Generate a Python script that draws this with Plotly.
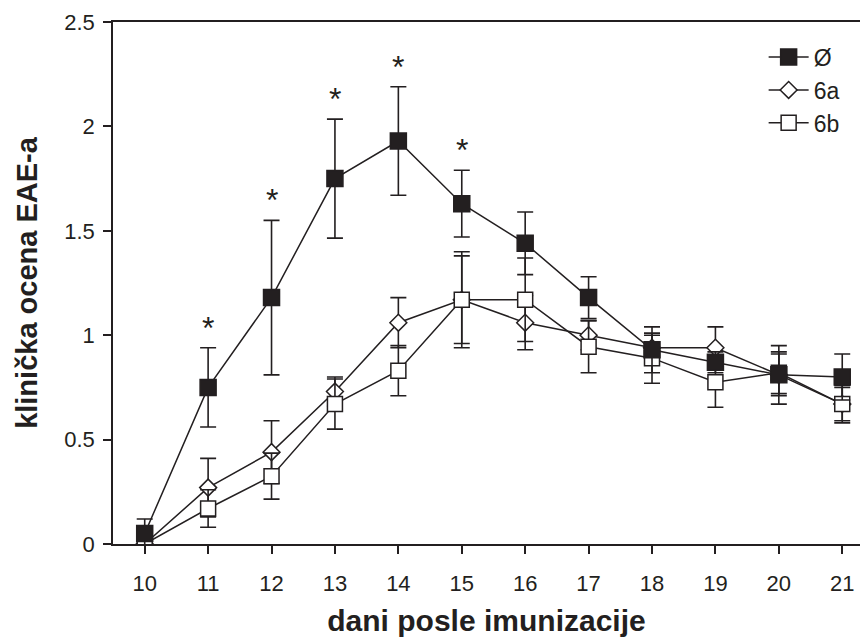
import plotly.graph_objects as go

days = [10, 11, 12, 13, 14, 15, 16, 17, 18, 19, 20, 21]

ctrl_mean = [0.05, 0.75, 1.18, 1.75, 1.93, 1.63, 1.44, 1.18, 0.93, 0.87, 0.81, 0.80]
ctrl_err = [0.07, 0.19, 0.37, 0.285, 0.26, 0.16, 0.15, 0.10, 0.11, 0.05, 0.10, 0.11]

a6_mean = [0.0, 0.27, 0.44, 0.73, 1.06, 1.17, 1.06, 1.00, 0.94, 0.94, 0.81, 0.67]
a6_err = [0.0, 0.14, 0.15, 0.07, 0.12, 0.21, 0.13, 0.07, 0.06, 0.10, 0.14, 0.08]

b6_mean = [0.0, 0.17, 0.325, 0.67, 0.83, 1.17, 1.17, 0.945, 0.89, 0.775, 0.82, 0.67]
b6_err = [0.0, 0.09, 0.11, 0.12, 0.12, 0.23, 0.20, 0.125, 0.12, 0.12, 0.10, 0.09]

star_days = [11, 12, 13, 14, 15]

y_ticks = [0, 0.5, 1, 1.5, 2, 2.5]
y_tick_labels = ["0", "0.5", "1", "1.5", "2", "2.5"]

INK = "#231f20"
FONT = "Liberation Sans, Arial, sans-serif"

fig = go.Figure()

def add_series(name, mean, err, symbol, fill, size, rank):
    fig.add_trace(go.Scatter(
        x=days, y=mean, name=name, mode="lines+markers",
        line=dict(color=INK, width=1.5),
        marker=dict(symbol=symbol, size=size, color=fill,
                    line=dict(color=INK, width=1.5)),
        error_y=dict(type="data", array=err, visible=True,
                     color=INK, thickness=1.6, width=8),
        legendrank=rank, legendgroup=name,
    ))

add_series("6a", a6_mean, a6_err, "diamond", "white", 13, 2)
add_series("6b", b6_mean, b6_err, "square", "white", 15, 3)
add_series("Ø", ctrl_mean, ctrl_err, "square", INK, 16, 1)

for d in star_days:
    i = days.index(d)
    fig.add_annotation(
        x=d, y=ctrl_mean[i] + ctrl_err[i], text="*", showarrow=False,
        yanchor="bottom", yshift=0,
        font=dict(family=FONT, size=32, color=INK),
    )

fig.update_layout(
    width=860, height=637,
    margin=dict(l=113, r=0, t=22, b=93, autoexpand=False),
    plot_bgcolor="white", paper_bgcolor="white",
    font=dict(family=FONT, color=INK, size=22),
    showlegend=True,
    legend=dict(x=0.871, y=0.974, xanchor="left", yanchor="top",
                bgcolor="rgba(0,0,0,0)", font=dict(size=23),
                itemwidth=40, tracegroupgap=0),
    xaxis=dict(
        range=[9.5, 21.28], tickmode="array", tickvals=days,
        automargin=False,
        ticks="outside", ticklen=8, tickwidth=1.5, tickcolor=INK,
        showline=True, linecolor=INK, linewidth=1.5, mirror=True,
        showgrid=False, zeroline=False,
        tickfont=dict(size=22, color=INK),
        ticklabelstandoff=11,
        title=dict(text="<b>dani posle imunizacije</b>",
                   font=dict(size=30, color=INK), standoff=28),
    ),
    yaxis=dict(
        range=[0, 2.5], tickmode="array", tickvals=y_ticks,
        ticktext=y_tick_labels, automargin=False,
        ticks="outside", ticklen=8, tickwidth=1.5, tickcolor=INK,
        showline=True, linecolor=INK, linewidth=1.5,
        showgrid=False, zeroline=False,
        tickfont=dict(size=22, color=INK),
        ticklabelstandoff=4,
        title=dict(text="<b>klinička ocena EAE-a</b>",
                   font=dict(size=29, color=INK), standoff=18),
    ),
)

fig.write_html(
    "out.html",
    config={"displayModeBar": False},
    post_script="document.body.style.margin='0';document.body.style.overflow='hidden';",
)
